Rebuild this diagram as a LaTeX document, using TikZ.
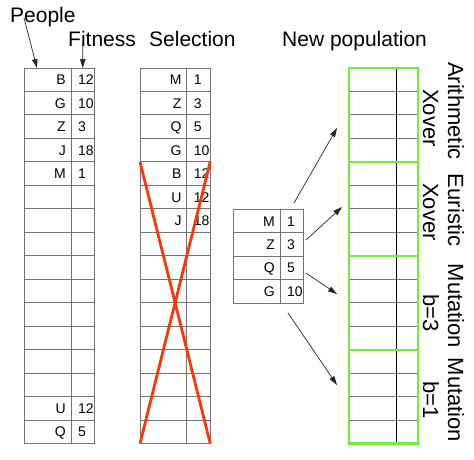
\documentclass[tikz,border=0pt]{standalone}
\usepackage{fontspec}
\setmainfont{Liberation Sans}
\usetikzlibrary{arrows.meta}
\definecolor{gline}{RGB}{115,115,115}
\definecolor{popgreen}{RGB}{110,240,60}
\definecolor{xred}{RGB}{250,55,10}
\begin{document}
\begin{tikzpicture}[x=1pt,y=-1pt,
  cell/.style={draw=gline, line width=0.9pt, minimum height=23.47pt, inner sep=0pt, outer sep=0pt, anchor=north west},
  wide/.style={cell, minimum width=46.7pt},
  narrow/.style={cell, minimum width=23.5pt},
  pwide/.style={cell, minimum width=47pt},
  pnarrow/.style={cell, minimum width=22pt},
  lett/.style={font=\fontsize{14}{16}\selectfont, inner sep=0pt, anchor=base east},
  num/.style={font=\fontsize{14}{16}\selectfont, inner sep=0pt, anchor=base west},
  title/.style={font=\fontsize{21}{25}\selectfont, inner sep=0pt, anchor=base west},
  vlab/.style={font=\fontsize{22}{26}\selectfont, inner sep=0pt, anchor=base, rotate=-90},
  arr/.style={line width=0.7pt, draw=black!85, -{Triangle[length=9pt,width=5.5pt]}},
  greenbox/.style={draw=popgreen, line width=2.2pt},
  cross/.style={draw=xred, line width=2.8pt},
]
\useasboundingbox (0,0) rectangle (474,460);

% titles
\node[title] (people) at (10,23) {People};
\node[title] (fitness) at (68,47) {Fitness};
\node[title] (selection) at (149,47) {Selection};
\node[title] (newpop) at (282,47) {New population};

% people table
\foreach \r in {1,...,16} {
  \node[wide] (P-\r-1) at (24.3,{68+(\r-1)*23.47}) {};
  \node[narrow] (P-\r-2) at (71,{68+(\r-1)*23.47}) {};
}
\foreach \r/\l/\n in {1/B/12,2/G/10,3/Z/3,4/J/18,5/M/1,15/U/12,16/Q/5} {
  \node[lett] (Pl-\r) at ([xshift=-5pt,yshift=-5pt]P-\r-1.east) {\l};
  \node[num] (Pn-\r) at ([xshift=7pt,yshift=-5pt]P-\r-1.east) {\n};
}

% selection table
\foreach \r in {1,...,16} {
  \node[wide] (S-\r-1) at (140,{68+(\r-1)*23.47}) {};
  \node[narrow] (S-\r-2) at (186.7,{68+(\r-1)*23.47}) {};
}
\foreach \r/\l/\n in {1/M/1,2/Z/3,3/Q/5,4/G/10,5/B/12,6/U/12,7/J/18} {
  \node[lett] (Sl-\r) at ([xshift=-5pt,yshift=-5pt]S-\r-1.east) {\l};
  \node[num] (Sn-\r) at ([xshift=7pt,yshift=-5pt]S-\r-1.east) {\n};
}
\draw[cross] (S-5-1.north west) -- (S-16-2.south east);
\draw[cross] (S-5-2.north east) -- (S-16-1.south west);

% middle table
\foreach \r/\l/\n in {1/M/1,2/Z/3,3/Q/5,4/G/10} {
  \node[wide, minimum width=47pt] (M-\r-1) at (233,{209.3+(\r-1)*23.47}) {};
  \node[narrow, minimum width=23pt] (M-\r-2) at (280,{209.3+(\r-1)*23.47}) {};
  \node[lett] (Ml-\r) at ([xshift=-5pt,yshift=-5pt]M-\r-1.east) {\l};
  \node[num] (Mn-\r) at ([xshift=7pt,yshift=-5pt]M-\r-1.east) {\n};
}

% new population
\foreach \r in {1,...,16} {
  \node[pwide] (N-\r-1) at (349,{68+(\r-1)*23.47}) {};
  \node[pnarrow] (N-\r-2) at (396,{68+(\r-1)*23.47}) {};
}
\draw[black, line width=0.9pt] (N-1-1.north east) -- (N-16-1.south east);
\draw[greenbox] (N-1-1.north west) rectangle (N-4-2.south east);
\draw[greenbox] (N-5-1.north west) rectangle (N-8-2.south east);
\draw[greenbox] (N-9-1.north west) rectangle (N-12-2.south east);
\draw[greenbox] (N-13-1.north west) rectangle (N-16-2.south east);

% vertical labels
\node[vlab] (lab1) at (448,111) {Arithmetic};
\node[vlab] (lab2) at (423,118) {Xover};
\node[vlab] (lab3) at (448,210) {Euristic};
\node[vlab] (lab4) at (423,212) {Xover};
\node[vlab] (lab5) at (448,306) {Mutation};
\node[vlab] (lab6) at (423,313) {b=3};
\node[vlab] (lab7) at (448,400) {Mutation};
\node[vlab] (lab8) at (423,400) {b=1};

% arrows
\coordinate (pa) at (24,18);
\coordinate (pt) at (37,68);
\coordinate (fa) at (82.7,42);
\draw[arr] (pa) -- (pt);
\draw[arr] (fa) -- (P-1-2.north);

\coordinate (a1s) at (294,203);
\coordinate (a1e) at (337,128);
\coordinate (a2s) at (306,240);
\coordinate (a2e) at (342,207);
\coordinate (a3s) at (306,273);
\coordinate (a3e) at (337,294);
\coordinate (a4s) at (288,313);
\coordinate (a4e) at (337,385);
\draw[arr] (a1s) -- (a1e);
\draw[arr] (a2s) -- (a2e);
\draw[arr] (a3s) -- (a3e);
\draw[arr] (a4s) -- (a4e);
\end{tikzpicture}
\end{document}
